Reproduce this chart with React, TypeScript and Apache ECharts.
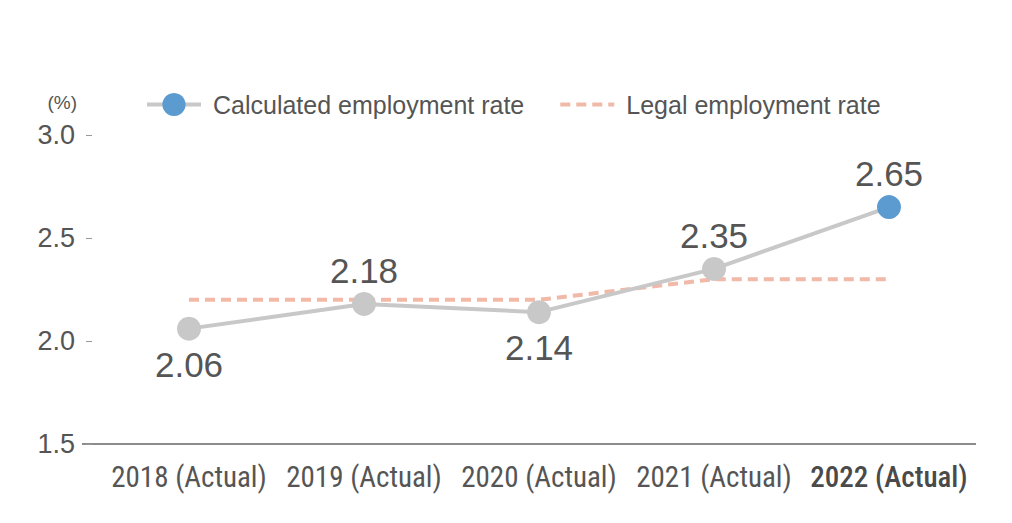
import React, { useEffect, useRef } from "react";
import * as echarts from "echarts";

// Fiscal years on the category axis
const categories = ["2018 (Actual)", "2019 (Actual)", "2020 (Actual)", "2021 (Actual)", "2022 (Actual)"];
// Calculated employment rate (%)
const calculatedRate = [2.06, 2.18, 2.14, 2.35, 2.65];
// Legal employment rate (%)
const legalRate = [2.2, 2.2, 2.2, 2.3, 2.3];
// Value axis ticks
const yTicks = [1.5, 2.0, 2.5, 3.0];

const TEXT = "#555555";
const GRAY = "#c8c8c8";
const BLUE = "#5b9bd0";
const SALMON = "#f0b9a8";
const FONT = "'Liberation Sans', Arial, Helvetica, sans-serif";
const NARROW = "'Liberation Sans Narrow', 'Roboto Condensed', 'Liberation Sans', sans-serif";

export default function App() {
  const ref = useRef<HTMLDivElement>(null);

  useEffect(() => {
    if (!ref.current) return;
    const chart = echarts.init(ref.current, undefined, { renderer: "svg" });
    const last = calculatedRate.length - 1;

    chart.setOption({
      animation: false,
      textStyle: { fontFamily: FONT },
      grid: { left: 101.5, right: 35.5, top: 135, bottom: 79 },
      legend: {
        left: 140,
        top: 87,
        itemWidth: 54,
        itemHeight: 29,
        itemGap: 34,
        lineStyle: { width: 4 },
        textStyle: { fontSize: 25, color: TEXT, fontFamily: FONT, padding: [0, 0, 0, 7] },
        data: [
          { name: "Calculated employment rate" },
          { name: "Legal employment rate", itemStyle: { opacity: 0 } },
        ],
      },
      xAxis: {
        type: "category",
        data: categories,
        axisLine: { show: false },
        axisTick: { show: false },
        axisLabel: {
          interval: 0,
          margin: 18,
          color: TEXT,
          fontSize: 29,
          fontFamily: NARROW,
          formatter: (v: string, i: number) => (i === last ? `{b|${v}}` : v),
          rich: { b: { fontWeight: 500, fontSize: 29, color: "#4a4a4a", fontFamily: NARROW } },
        },
      },
      yAxis: {
        type: "value",
        min: yTicks[0],
        max: yTicks[yTicks.length - 1],
        interval: 0.5,
        offset: 9.5,
        axisLine: { show: false },
        axisTick: { show: true, length: 6, lineStyle: { color: "#999999", width: 1 } },
        splitLine: { show: false },
        axisLabel: {
          margin: 17,
          color: TEXT,
          fontSize: 27,
          formatter: (v: number) => v.toFixed(1),
        },
      },
      graphic: [
        {
          type: "text",
          x: 77,
          y: 102,
          style: { text: "(%)", fill: TEXT, fontSize: 19, fontFamily: FONT, align: "right", verticalAlign: "middle" },
        },
        {
          type: "line",
          shape: { x1: 82, y1: 444, x2: 976, y2: 444 },
          style: { stroke: "#666666", lineWidth: 1.5 },
        },
      ],
      series: [
        {
          name: "Legal employment rate",
          type: "line",
          data: legalRate,
          symbol: "none",
          z: 2,
          itemStyle: { color: SALMON },
          lineStyle: { color: SALMON, width: 4, type: [10, 6] },
        },
        {
          name: "Calculated employment rate",
          type: "line",
          z: 3,
          symbol: "circle",
          symbolSize: 24,
          itemStyle: { color: BLUE },
          lineStyle: { color: GRAY, width: 4 },
          data: calculatedRate.map((v, i) => ({
            value: v,
            itemStyle: { color: i === last ? BLUE : GRAY },
            label: {
              show: true,
              position: i === 0 || i === 2 ? "bottom" : "top",
              distance: i === 0 || i === 2 ? 6 : 4,
              fontSize: 35,
              color: TEXT,
              fontFamily: FONT,
              formatter: (p: any) => Number(p.value).toFixed(2),
            },
          })),
        },
      ],
    });

    return () => chart.dispose();
  }, []);

  return <div ref={ref} style={{ width: 1012, height: 523, position: "absolute", left: 0, top: 0 }} />;
}
